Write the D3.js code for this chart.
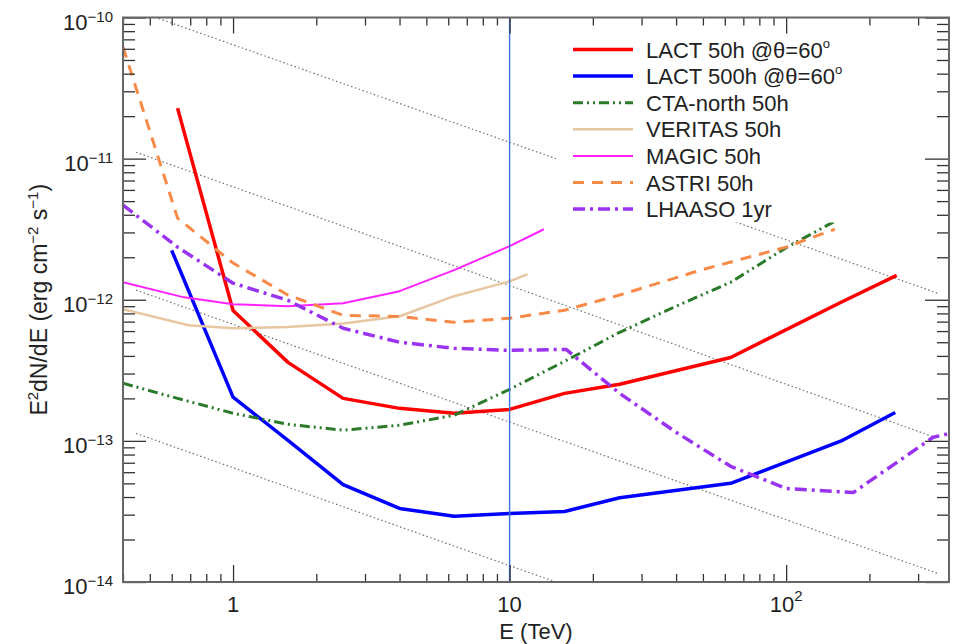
<!DOCTYPE html>
<html>
<head>
<meta charset="utf-8">
<script src="https://cdn.jsdelivr.net/npm/d3@7"></script>
<style>
  body { margin: 0; background: #fff; }
  text { font-family: "Liberation Sans", Arial, sans-serif; fill: #222; }
</style>
</head>
<body>
<svg id="chart" width="964" height="644"></svg>
<script>
// Sensitivity curves: [E (TeV), E^2 dN/dE (erg cm^-2 s^-1)]
const lact50h = [[0.63, 2.28e-11], [1.0, 8.4e-13], [1.58, 3.6e-13], [2.5, 2.0e-13], [4.0, 1.7e-13],
  [6.3, 1.57e-13], [10, 1.67e-13], [15.8, 2.17e-13], [25, 2.52e-13], [63, 3.9e-13], [158, 9.6e-13], [251, 1.49e-12]];
const lact500h = [[0.6, 2.24e-12], [1.0, 2.04e-13], [1.58, 1.01e-13], [2.5, 4.9e-14], [4.0, 3.32e-14],
  [6.3, 2.92e-14], [10, 3.06e-14], [15.8, 3.16e-14], [25, 3.95e-14], [63, 5.0e-14], [160, 1.01e-13], [248, 1.59e-13]];
const ctaNorth = [[0.4, 2.56e-13], [0.63, 2.0e-13], [1.0, 1.57e-13], [1.58, 1.31e-13], [2.5, 1.19e-13],
  [4.0, 1.29e-13], [6.3, 1.52e-13], [10, 2.32e-13], [15.8, 3.66e-13], [25, 5.88e-13], [40, 9.0e-13],
  [63, 1.33e-12], [100, 2.34e-12], [150, 3.6e-12]];
const veritas = [[0.4, 8.56e-13], [0.69, 6.6e-13], [1.0, 6.28e-13], [1.58, 6.4e-13], [2.5, 6.8e-13],
  [4.0, 7.64e-13], [6.3, 1.06e-12], [10, 1.35e-12], [11.6, 1.52e-12]];
const magic = [[0.4, 1.33e-12], [0.665, 1.04e-12], [1.0, 9.29e-13], [1.58, 9.0e-13], [2.5, 9.45e-13],
  [4.0, 1.15e-12], [6.3, 1.62e-12], [10, 2.4e-12], [13.3, 3.16e-12]];
const astri = [[0.4, 6.18e-11], [0.63, 3.79e-12], [1.0, 1.82e-12], [1.58, 1.08e-12], [2.5, 7.76e-13],
  [4.0, 7.6e-13], [6.3, 6.92e-13], [10, 7.4e-13], [15.8, 8.43e-13], [25, 1.08e-12], [49, 1.62e-12],
  [100, 2.36e-12], [150, 3.16e-12]];
const lhaaso = [[0.4, 4.68e-12], [0.63, 2.36e-12], [1.0, 1.31e-12], [1.58, 9.9e-13], [2.5, 6.28e-13],
  [4.0, 5.0e-13], [6.3, 4.53e-13], [10, 4.38e-13], [16, 4.45e-13], [25, 2.17e-13], [40, 1.15e-13],
  [63, 6.6e-14], [100, 4.6e-14], [175, 4.31e-14], [340, 1.06e-13], [390, 1.13e-13]];

// grey dotted reference spectra, start and end points
const refLines = [
  [[0.446, 1.12e-10], [354, 1.11e-12]],
  [[0.446, 1.11e-11], [354, 1.04e-13]],
  [[0.446, 1.17e-12], [354, 1.15e-14]],
  [[0.446, 1.13e-13], [354, 1.1e-15]]
];

const markerEnergy = 10;

const seriesNames = ['LACT 50h @θ=60', 'LACT 500h @θ=60', 'CTA-north 50h', 'VERITAS 50h',
  'MAGIC 50h', 'ASTRI 50h', 'LHAASO 1yr'];
const seriesData = [lact50h, lact500h, ctaNorth, veritas, magic, astri, lhaaso];

const xTickValues = [1, 10, 100];
const xTickLabels = [['1', ''], ['10', ''], ['10', '2']];
const yTickValues = [1e-14, 1e-13, 1e-12, 1e-11, 1e-10];
const yTickLabels = ['\u221214', '\u221213', '\u221212', '\u221211', '\u221210'];

// line styles
const styles = [
  { color: '#ff0000', width: 3.5, dash: null },
  { color: '#0000ff', width: 3.5, dash: null },
  { color: '#2a7a2a', width: 3, dash: '10 4 2 4 2 4' },
  { color: '#e8c6a2', width: 2.5, dash: null },
  { color: '#ff22ff', width: 2, dash: null },
  { color: '#f88a48', width: 3, dash: '11 8' },
  { color: '#9933f0', width: 3.5, dash: '12 5 3 5' }
];

const W = 964, H = 644;
const margin = { top: 17.5, right: 15, bottom: 62, left: 123 };
const width = W - margin.left - margin.right;
const height = H - margin.top - margin.bottom;

const x = d3.scaleLog().domain([0.4, 388]).range([0, width]);
const y = d3.scaleLog().domain([1e-14, 1e-10]).range([height, 0]);

const svg = d3.select('#chart');
const g = svg.append('g').attr('transform', `translate(${margin.left},${margin.top})`);

g.append('clipPath').attr('id', 'plot-clip')
  .append('rect').attr('width', width).attr('height', height);

const line = d3.line().x(d => x(d[0])).y(d => y(d[1]));
const plot = g.append('g').attr('clip-path', 'url(#plot-clip)');

// reference lines
plot.selectAll('.ref')
  .data(refLines)
  .enter().append('path')
  .attr('class', 'ref')
  .attr('d', line)
  .attr('fill', 'none')
  .attr('stroke', '#707070')
  .attr('stroke-width', 1.2)
  .attr('stroke-dasharray', '1.5 2.5');

// sensitivity curves
plot.selectAll('.curve')
  .data(seriesData)
  .enter().append('path')
  .attr('class', 'curve')
  .attr('d', line)
  .attr('fill', 'none')
  .attr('stroke', (d, i) => styles[i].color)
  .attr('stroke-width', (d, i) => styles[i].width)
  .attr('stroke-dasharray', (d, i) => styles[i].dash)
  .attr('stroke-linejoin', 'round');

// vertical marker at 10 TeV
plot.append('line')
  .attr('x1', x(markerEnergy)).attr('x2', x(markerEnergy))
  .attr('y1', 0).attr('y2', height)
  .attr('stroke', '#3a72e0')
  .attr('stroke-width', 1.4);

// legend
const legend = g.append('g').attr('transform', 'translate(433,18)');
legend.append('rect')
  .attr('x', 0).attr('y', 0).attr('width', 345).attr('height', 187)
  .attr('fill', '#fff');
const rows = legend.selectAll('.row')
  .data(seriesNames)
  .enter().append('g')
  .attr('class', 'row')
  .attr('transform', (d, i) => `translate(0,${14 + i * 26.6})`);
rows.append('line')
  .attr('x1', 17).attr('x2', 77)
  .attr('stroke', (d, i) => styles[i].color)
  .attr('stroke-width', (d, i) => styles[i].width)
  .attr('stroke-dasharray', (d, i) => styles[i].dash);
const rowText = rows.append('text')
  .attr('x', 90).attr('y', 8)
  .attr('font-size', 22)
  .text(d => d);
rowText.filter((d, i) => i < 2)
  .append('tspan').attr('dy', -10).attr('font-size', 13).text('o');

// axes
const xMinor = x.ticks().filter(v => !xTickValues.includes(v));
const yMinor = y.ticks().filter(v => !yTickValues.some(t => Math.abs(t - v) / v < 1e-6));

function tickAxis(axis, values, size) {
  return axis.tickValues(values).tickSize(size).tickFormat('');
}

const axes = [
  [d3.axisBottom(x), xTickValues, -17, `translate(0,${height})`],
  [d3.axisBottom(x), xMinor, -8, `translate(0,${height})`],
  [d3.axisTop(x), xTickValues, -16, 'translate(0,0)'],
  [d3.axisTop(x), xMinor, -8, 'translate(0,0)'],
  [d3.axisLeft(y), yTickValues, -23, 'translate(0,0)'],
  [d3.axisLeft(y), yMinor, -12, 'translate(0,0)'],
  [d3.axisRight(y), yTickValues, -24, `translate(${width},0)`],
  [d3.axisRight(y), yMinor, -12, `translate(${width},0)`]
];
axes.forEach(([axis, values, size, tr]) => {
  const a = g.append('g').attr('transform', tr).call(tickAxis(axis, values, size));
  a.select('.domain').remove();
  a.selectAll('line').attr('stroke', '#333').attr('stroke-width', 1.3);
});

g.append('rect')
  .attr('width', width).attr('height', height)
  .attr('fill', 'none')
  .attr('stroke', '#666')
  .attr('stroke-width', 2);

// tick labels
const xl = g.selectAll('.xlabel')
  .data(xTickValues)
  .enter().append('text')
  .attr('class', 'xlabel')
  .attr('x', d => x(d))
  .attr('y', height + 30)
  .attr('text-anchor', 'middle')
  .attr('font-size', 22);
xl.append('tspan').text((d, i) => xTickLabels[i][0]);
xl.append('tspan').attr('dy', -11).attr('font-size', 15).text((d, i) => xTickLabels[i][1]);

const yl = g.selectAll('.ylabel')
  .data(yTickValues)
  .enter().append('text')
  .attr('class', 'ylabel')
  .attr('x', -10)
  .attr('y', d => y(d) + 12)
  .attr('text-anchor', 'end')
  .attr('font-size', 22);
yl.append('tspan').text('10');
yl.append('tspan').attr('dy', -8).attr('font-size', 15).text((d, i) => yTickLabels[i]);

// axis titles
g.append('text')
  .attr('x', width / 2)
  .attr('y', height + 57)
  .attr('text-anchor', 'middle')
  .attr('font-size', 22)
  .text('E (TeV)');

const yt = g.append('text')
  .attr('transform', `translate(${47 - margin.left},${height / 2}) rotate(-90)`)
  .attr('text-anchor', 'middle')
  .attr('font-size', 23);
yt.append('tspan').text('E');
yt.append('tspan').attr('dy', -9).attr('font-size', 15).text('2');
yt.append('tspan').attr('dy', 9).text('dN/dE (erg cm');
yt.append('tspan').attr('dy', -9).attr('font-size', 15).text('\u22122');
yt.append('tspan').attr('dy', 9).text(' s');
yt.append('tspan').attr('dy', -9).attr('font-size', 15).text('\u22121');
yt.append('tspan').attr('dy', 9).text(')');
</script>
</body>
</html>
